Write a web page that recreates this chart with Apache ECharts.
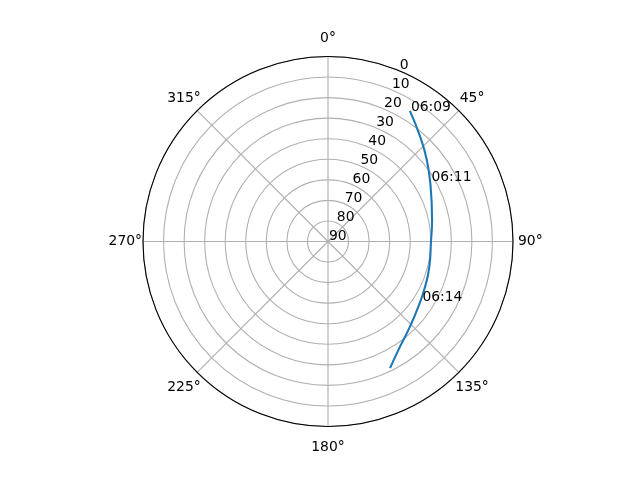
<!DOCTYPE html>
<html>
<head>
<meta charset="utf-8">
<script src="https://cdn.jsdelivr.net/npm/echarts@6/dist/echarts.min.js"></script>
<style>html,body{margin:0;padding:0;background:#fff}#c{width:640px;height:480px}</style>
</head>
<body>
<div id="c"></div>
<script>
// Satellite pass track: azimuth (deg) and elevation (deg)
var passAz = [32.1, 41.3, 50.5, 61.9, 78.3, 90.0, 104.0, 115.0, 125.8, 136.1, 145.6, 153.9];
var passEl = [15.0, 22.1, 27.7, 33.4, 38.3, 39.9, 39.2, 37.9, 35.8, 32.5, 28.0, 21.4];
// Time annotations
var markTime = ['06:09', '06:11', '06:14'];
var markAz = [32.1, 59.4, 122.7];
var markEl = [15.0, 32.1, 36.0];
// Axis ticks
var angleTicks = [0, 45, 90, 135, 180, 225, 270, 315];
var elevTicks = [0, 10, 20, 30, 40, 50, 60, 70, 80, 90];

var FONT = 'DejaVu Sans';
var FS = 13.9;
var CX = 328, CY = 241.5, R = 185;
var LW = 20; // width of the radial label box
var trackData = passAz.map(function (a, i) { return [passEl[i], a]; });
var markData = markAz.map(function (a, i) { return { value: [markEl[i], a], name: markTime[i] }; });

var chart = echarts.init(document.getElementById('c'), null, { renderer: 'canvas' });
chart.setOption({
  backgroundColor: '#ffffff',
  animation: false,
  polar: [
    { center: [CX, CY], radius: R },
    { center: [CX + LW + 1, CY - 5.5], radius: R }
  ],
  angleAxis: [
    {
      polarIndex: 0, type: 'value', min: 0, max: 360, interval: 45,
      startAngle: 90, clockwise: true,
      axisLine: { show: true, lineStyle: { color: '#000', width: 1.1 } },
      axisTick: { show: false },
      splitLine: { show: true, lineStyle: { color: '#b0b0b0', width: 1.1 } },
      axisLabel: {
        show: true, margin: -2.5, color: '#000', fontFamily: FONT, fontSize: FS,
        formatter: function (v) {
          if (angleTicks.indexOf(v) < 0) return '';
          var k = (v % 180 === 0) ? 'v' : ((v % 90 === 0) ? 'h' : 'd');
          return '{' + k + '|' + v + '°}';
        },
        rich: {
          v: { fontFamily: FONT, fontSize: FS, color: '#000', padding: [16.5, 0, 13.5, 0] },
          h: { fontFamily: FONT, fontSize: FS, color: '#000', padding: [0, 3.5, 0, 7.5] },
          d: { fontFamily: FONT, fontSize: FS, color: '#000', width: 30, align: 'center', padding: [9.8, 0, 6.8, 0] }
        }
      }
    },
    {
      polarIndex: 1, type: 'value', min: 0, max: 360,
      startAngle: 67.5, clockwise: true, show: false
    }
  ],
  radiusAxis: [
    {
      polarIndex: 0, type: 'value', min: 0, max: 90, interval: 10, inverse: true,
      axisLine: { show: false }, axisTick: { show: false },
      axisLabel: { show: false },
      splitLine: { show: true, lineStyle: { color: '#b0b0b0', width: 1.1 } }
    },
    {
      polarIndex: 1, type: 'value', min: 0, max: 90, interval: 10, inverse: true,
      axisLine: { show: false }, axisTick: { show: false },
      splitLine: { show: false },
      axisLabel: {
        show: true, margin: 0, color: '#000', fontFamily: FONT, fontSize: FS,
        formatter: function (v) { return elevTicks.indexOf(v) >= 0 ? '{r|' + v + '}' : ''; },
        rich: {
          r: { fontFamily: FONT, fontSize: FS, color: '#000', width: LW, align: 'left' }
        }
      }
    }
  ],
  series: [
    {
      type: 'line', coordinateSystem: 'polar', polarIndex: 0,
      data: trackData, smooth: true, showSymbol: false, symbol: 'none',
      lineStyle: { color: '#1f77b4', width: 2.1 }, z: 5
    },
    {
      type: 'scatter', coordinateSystem: 'polar', polarIndex: 0,
      data: markData, symbolSize: 0, z: 6,
      itemStyle: { opacity: 1 },
      label: {
        show: true, position: [0, 0], align: 'left', verticalAlign: 'bottom',
        offset: [1, 3], color: '#000', opacity: 1, fontFamily: FONT, fontSize: FS,
        formatter: function (p) { return p.name; }
      }
    }
  ]
});
</script>
</body>
</html>
